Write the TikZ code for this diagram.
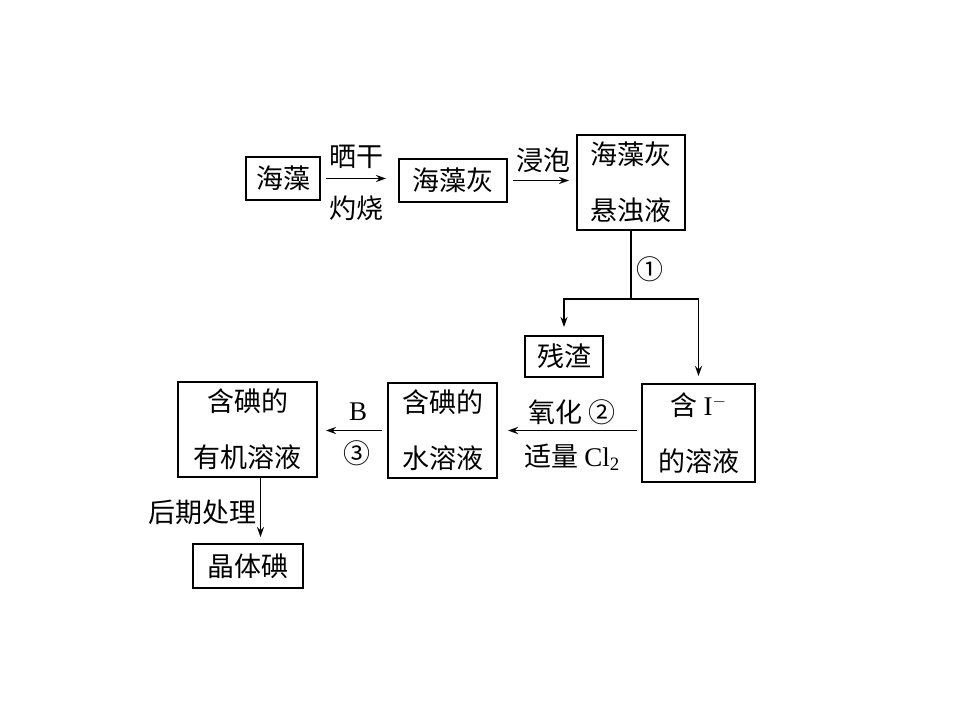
\documentclass[tikz,border=0pt]{standalone}
\usepackage{fontspec}
\setmainfont{Liberation Serif}
\newfontfamily\cjk{Noto Sans CJK SC}
\usetikzlibrary{arrows.meta}

\begin{document}
\begin{tikzpicture}[x=1pt,y=-1pt,>={Stealth[length=10pt,width=7pt]},font=\cjk\fontsize{27}{56}\selectfont]
        \tikzstyle{box}=[rectangle,draw,line width=2pt,inner sep=0pt,align=center]
        \tikzstyle{flow}=[->,line width=1.5pt]
        \tikzstyle{lbl}=[inner sep=0pt]
        \useasboundingbox (0,0) rectangle (960,720);
        % top row
        \node[box,minimum width=74pt,minimum height=43pt](hz) at (283,178.5){海藻};
        \node[box,minimum width=108pt,minimum height=43pt](hui) at (453,180.5){海藻灰};
        \node[box,minimum width=108pt,minimum height=95pt](xs) at (631,182.5){海藻灰\\悬浊液};
        \draw[flow,shorten <=5pt,shorten >=12pt] (hz.east) -- (hz.east -| hui.west);
        \node[lbl](shai) at (356,157){晒干};
        \node[lbl](zhuo) at (356,208){灼烧};
        \draw[flow,shorten <=5pt,shorten >=7pt] (hui.east) -- (hui.east -| xs.west);
        \node[lbl](jin) at (543,160){浸泡};
        % filtering
        \node[box,minimum width=78pt,minimum height=41pt](cz) at (564,356.5){残渣};
        \node[box,minimum width=113pt,minimum height=98pt](ion) at (698.5,433){含 {\rmfamily I}$^-$\\的溶液};
        \coordinate (fork) at (631,299);
        \draw[line width=1.5pt] (xs.south) -- (fork);
        \draw[flow] (fork) -| ([yshift=8pt]cz.north);
        \draw[flow] (fork) -| ([yshift=7pt]ion.north);
        \node[lbl](s1) at (650,269){①};
        % bottom row
        \node[box,minimum width=109pt,minimum height=95pt](sw) at (442.5,430.5){含碘的\\水溶液};
        \node[box,minimum width=139pt,minimum height=95pt](yj) at (247.5,429.5){含碘的\\有机溶液};
        \node[box,minimum width=110pt,minimum height=44pt](jt) at (248,566){晶体碘};
        \draw[flow,shorten <=4pt,shorten >=10pt] (ion.west |- sw) -- (sw.east);
        \node[lbl](ox) at (572,412){氧化 ②};
        \node[lbl](cl) at (572,457){适量 {\rmfamily Cl\textsubscript{2}}};
        \draw[flow,shorten <=5pt,shorten >=8pt] (sw.west) -- (sw.west -| yj.east);
        \node[lbl](b) at (358,412){\rmfamily B};
        \node[lbl](s3) at (357,453){③};
        \draw[flow,shorten >=6pt] ([xshift=13pt]yj.south) -- ([xshift=13pt]yj.south |- jt.north);
        \node[lbl,anchor=east](hq) at (257,512){后期处理};
\end{tikzpicture}
\end{document}
